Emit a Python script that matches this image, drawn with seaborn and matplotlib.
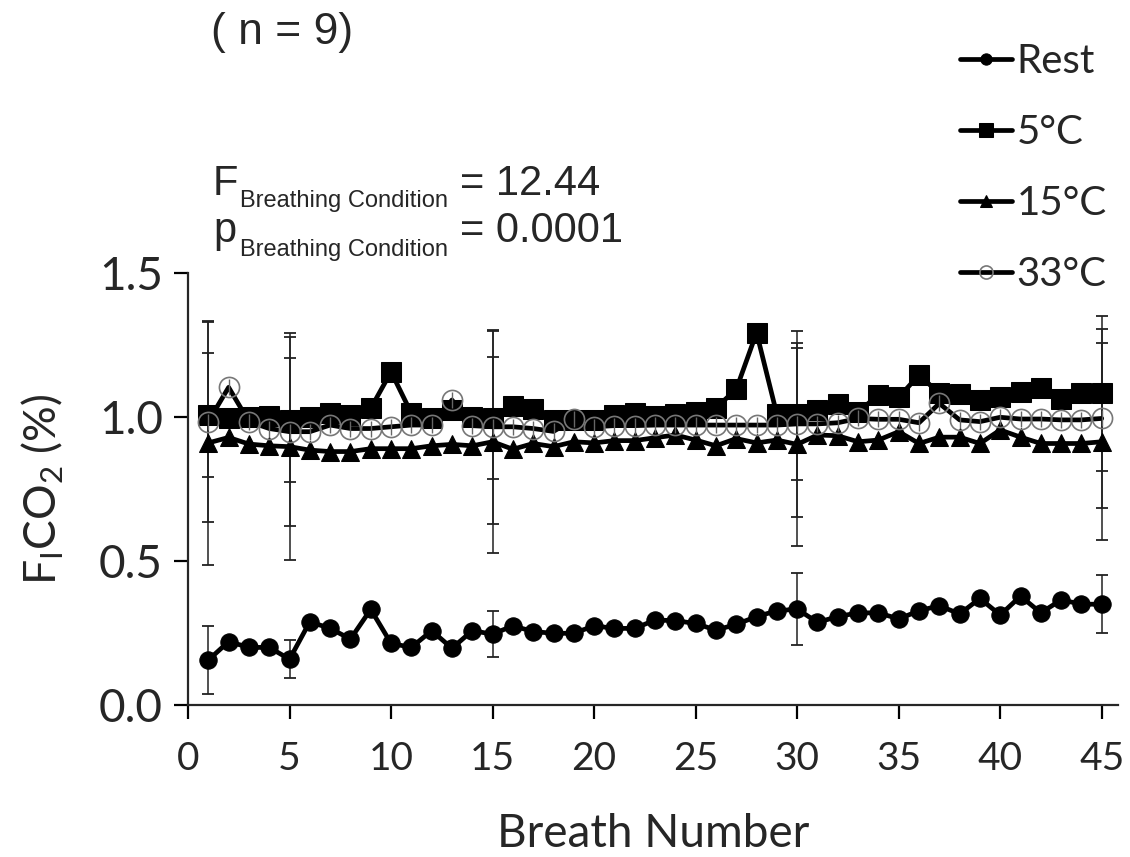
import numpy as np
import pandas as pd
import matplotlib
matplotlib.use("Agg")
import matplotlib.pyplot as plt
import seaborn as sns

breath = np.arange(1, 46)

rest = [0.156, 0.22, 0.20, 0.20, 0.159, 0.289, 0.266, 0.229, 0.332, 0.214,
        0.20, 0.258, 0.197, 0.258, 0.246, 0.275, 0.255, 0.249, 0.249, 0.275,
        0.266, 0.266, 0.295, 0.293, 0.283, 0.26, 0.28, 0.307, 0.327, 0.333,
        0.287, 0.307, 0.32, 0.32, 0.299, 0.327, 0.345, 0.316, 0.37, 0.3125,
        0.378, 0.32, 0.365, 0.35, 0.35]
c5 = [1.007, 0.995, 0.999, 1.005, 0.99, 1.001, 1.013, 1.007, 1.03, 1.157,
      1.013, 0.995, 1.024, 1.001, 0.995, 1.038, 1.027, 0.99, 0.99, 0.99,
      1.007, 1.013, 1.004, 1.01, 1.018, 1.032, 1.096, 1.293, 1.009, 1.011,
      1.024, 1.044, 1.018, 1.076, 1.068, 1.146, 1.082, 1.079, 1.059, 1.068,
      1.088, 1.10, 1.063, 1.082, 1.082]
c15 = [0.91, 0.929, 0.906, 0.90, 0.897, 0.885, 0.88, 0.88, 0.89, 0.89,
       0.89, 0.90, 0.905, 0.90, 0.914, 0.888, 0.908, 0.897, 0.914, 0.91,
       0.918, 0.918, 0.928, 0.9375, 0.92, 0.90, 0.925, 0.91, 0.92, 0.905,
       0.9375, 0.935, 0.914, 0.92, 0.949, 0.908, 0.93, 0.93, 0.908, 0.955,
       0.93, 0.908, 0.908, 0.908, 0.914]
c33 = [0.984, 1.103, 0.984, 0.96, 0.949, 0.949, 0.972, 0.96, 0.96, 0.966,
       0.972, 0.972, 1.059, 0.97, 0.966, 0.966, 0.96, 0.95, 0.992, 0.966,
       0.97, 0.97, 0.972, 0.972, 0.972, 0.972, 0.972, 0.972, 0.972, 0.976,
       0.976, 0.98, 0.995, 0.992, 0.992, 0.98, 1.047, 0.99, 0.984, 0.999,
       0.993, 0.993, 0.99, 0.99, 0.995]

# standard deviations, only shown at a few breaths
sd_breaths = [1, 5, 15, 30, 45]
rest_sd = [0.118, 0.065, 0.081, 0.125, 0.10]
c5_sd = [0.214, 0.215, 0.212, 0.23, 0.268]
c15_sd = [0.425, 0.395, 0.385, 0.353, 0.342]
c33_sd = [0.347, 0.328, 0.337, 0.323, 0.31]

labels = ["Rest", "5°C", "15°C", "33°C"]

sns.set_style("ticks")
plt.rcParams["font.family"] = ["Lato", "DejaVu Sans"]
plt.rcParams["mathtext.fontset"] = "custom"
plt.rcParams["mathtext.rm"] = "Lato"

fig = plt.figure(figsize=(11.3, 8.57), dpi=100)
ax = fig.add_axes([188 / 1130, 1 - 705 / 857, (1118 - 188) / 1130, (705 - 273) / 857])

df = pd.DataFrame({"breath": breath, "Rest": rest, "5°C": c5, "15°C": c15, "33°C": c33})

# error bars first so the markers sit on top
for series, sd in zip(labels, [rest_sd, c5_sd, c15_sd, c33_sd]):
    means = df.set_index("breath").loc[sd_breaths, series]
    ax.errorbar(sd_breaths, means, yerr=sd, fmt="none", ecolor="#222222",
                elinewidth=1.1, capsize=4.5, capthick=1.3, zorder=1)

lw = 3.4
line_kw = dict(color="black", linewidth=lw, markeredgecolor="black", zorder=3)
sns.lineplot(data=df, x="breath", y="Rest", marker="o", markersize=12.5,
             label="Rest", ax=ax, **line_kw)
sns.lineplot(data=df, x="breath", y="5°C", marker="s", markersize=15,
             label="5°C", ax=ax, **line_kw)
sns.lineplot(data=df, x="breath", y="15°C", marker="^", markersize=13,
             label="15°C", ax=ax, **line_kw)
sns.lineplot(data=df, x="breath", y="33°C", marker="o", markersize=14.5,
             markerfacecolor="none", markeredgecolor="#777777", markeredgewidth=1.2,
             color="black", linewidth=lw, label="33°C", ax=ax, zorder=4)
ax.plot(df["breath"], df["33°C"], linestyle="none", marker="|", markersize=11,
        markeredgecolor="#666666", markeredgewidth=1.0, zorder=4)

ax.set_xlim(0, 45.8)
ax.set_ylim(0, 1.5)
ax.set_xticks(range(0, 46, 5))
ax.set_yticks([0.0, 0.5, 1.0, 1.5])
ax.set_yticklabels(["0.0", "0.5", "1.0", "1.5"])
sns.despine(ax=ax)
for side in ["left", "bottom"]:
    ax.spines[side].set_linewidth(1.6)
ax.tick_params(axis="both", width=1.6, length=10, color="black")
ax.tick_params(axis="x", labelsize=28, pad=16)
ax.tick_params(axis="y", labelsize=33, pad=8)

ax.set_xlabel("Breath Number", fontsize=33, labelpad=26)
ax.set_ylabel(r"F$_\mathregular{I}$CO$_\mathregular{2}$ (%)", fontsize=32, labelpad=24)

leg = ax.legend(loc="center left", bbox_to_anchor=(960 / 1130, 1 - 168 / 857),
                bbox_transform=fig.transFigure, frameon=False, fontsize=29,
                handlelength=1.3, handletextpad=0.1, labelspacing=0.85,
                borderpad=0, borderaxespad=0, markerscale=0.65)
for h in leg.legend_handles:
    h.set_linewidth(lw)

arial = ["Liberation Sans", "DejaVu Sans"]
fig.text(211 / 1130, 1 - 44 / 857, "( n = 9)", fontsize=32, family=arial, va="baseline")
fig.text(213 / 1130, 1 - 195 / 857, "F", fontsize=30, family=arial, va="baseline")
fig.text(240 / 1130, 1 - 207 / 857, "Breathing Condition", fontsize=17, family=arial, va="baseline")
fig.text(460 / 1130, 1 - 195 / 857, "= 12.44", fontsize=30, family=arial, va="baseline")
fig.text(213 / 1130, 1 - 242 / 857, "p", fontsize=30, family=arial, va="baseline")
fig.text(240 / 1130, 1 - 256 / 857, "Breathing Condition", fontsize=17, family=arial, va="baseline")
fig.text(460 / 1130, 1 - 242 / 857, "= 0.0001", fontsize=30, family=arial, va="baseline")

fig.savefig("out.png", dpi=100)
